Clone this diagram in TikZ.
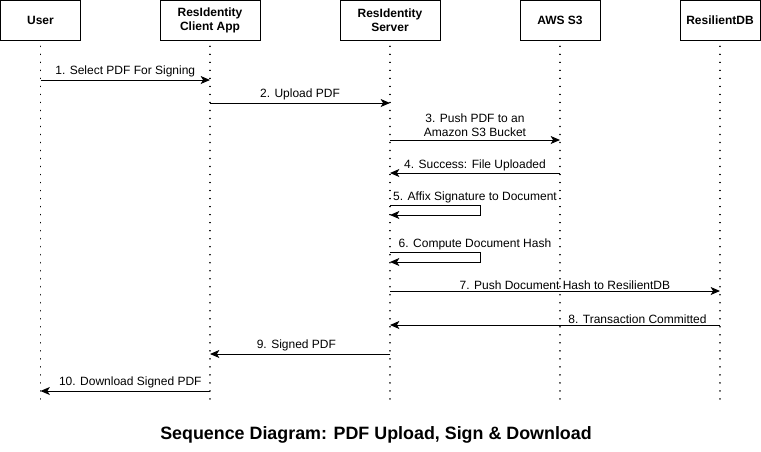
\documentclass[tikz,border=0pt]{standalone}
\usepackage{fontspec}
\setmainfont{Liberation Sans}
\usetikzlibrary{arrows.meta}

\begin{document}
\begin{tikzpicture}[
  x=0.75pt, y=-0.75pt,
  actor/.style={draw, line width=0.75pt, minimum height=30pt, align=center,
    font=\bfseries\fontsize{9}{10.5}\selectfont, inner sep=0pt},
  lifeline/.style={line width=1.2pt, dash pattern=on 0.01pt off 6pt, line cap=round},
  msg/.style={line width=0.75pt, -{Stealth[length=7pt, width=6pt, inset=1.8pt]}},
  lbl/.style={font=\fontsize{9}{10.5}\selectfont, inner sep=1pt, align=center}]
\useasboundingbox (0,0) rectangle (761,451);

\node[actor, minimum width=59.6pt] (user) at (40.5,20.5) {User};
\node[actor, minimum width=75pt] (app) at (210,20.5) {ResIdentity\\Client App};
\node[actor, minimum width=75pt] (srv) at (390,20.5) {ResIdentity\\Server};
\node[actor, minimum width=60pt] (s3) at (560,20.5) {AWS S3};
\node[actor, minimum width=60pt] (rdb) at (720,20.5) {ResilientDB};

\foreach \a in {user,app,srv,s3,rdb} {
  \coordinate (\a-end) at (\a |- 0,399);
  \draw[lifeline] ([yshift=-4pt]\a.south) -- (\a-end);
}

% messages
\draw[msg] (user |- 0,80) -- node[lbl, above=1pt] {1. Select PDF For Signing} (app |- 0,80);
\draw[msg] (app |- 0,103) -- node[lbl, above=1pt] {2. Upload PDF} (srv |- 0,103);
\draw[msg] (srv |- 0,140) -- node[lbl, above=1.5pt] {3. Push PDF to an\\Amazon S3 Bucket} (s3 |- 0,140);
\draw[msg] (s3 |- 0,173) -- node[lbl, above=0.5pt] {4. Success: File Uploaded} (srv |- 0,173);
\draw[msg] (srv |- 0,205) -- ++(90,0) -- ++(0,10) -- (srv |- 0,215);
\path (srv |- 0,205) -- node[lbl, above=0.5pt] {5. Affix Signature to Document} (s3 |- 0,205);
\draw[msg] (srv |- 0,252) -- ++(90,0) -- ++(0,10) -- (srv |- 0,262);
\path (srv |- 0,252) -- node[lbl, above=0.5pt] {6. Compute Document Hash} (s3 |- 0,252);
\draw[msg] (srv |- 0,291) -- node[lbl, above=0pt, pos=0.53] {7. Push Document Hash to ResilientDB} (rdb |- 0,291);
\draw[msg] (rdb |- 0,325) -- node[lbl, above=0pt, pos=0.25] {8. Transaction Committed} (srv |- 0,325);
\draw[msg] (srv |- 0,354) -- node[lbl, above=1pt, pos=0.52] {9. Signed PDF} (app |- 0,354);
\draw[msg] (app |- 0,391) -- node[lbl, above=1pt, pos=0.47] {10. Download Signed PDF} (user |- 0,391);

\node[font=\bfseries\fontsize{13.4}{15}\selectfont] (title) at (376,435) {Sequence Diagram: PDF Upload, Sign \& Download};
\end{tikzpicture}
\end{document}
